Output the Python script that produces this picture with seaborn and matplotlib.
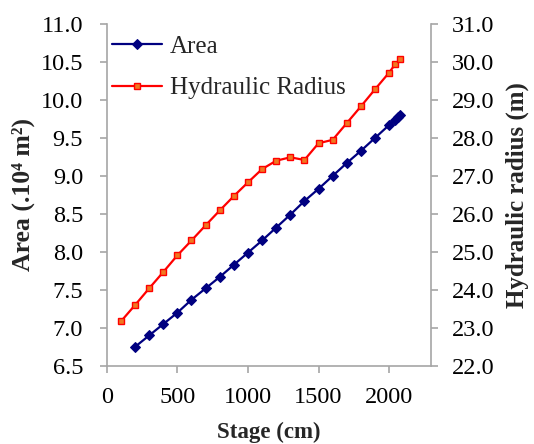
import matplotlib
matplotlib.use('Agg')
import matplotlib.pyplot as plt
import seaborn as sns
from matplotlib.ticker import FormatStrFormatter

# Area (x 10^4 m2) vs stage
stage_area = [200, 300, 400, 500, 600, 700, 800, 900, 1000, 1100, 1200,
              1300, 1400, 1500, 1600, 1700, 1800, 1900, 2000, 2045, 2065, 2080]
area = [6.75, 6.90, 7.05, 7.20, 7.37, 7.52, 7.67, 7.83, 7.99, 8.15, 8.32,
        8.49, 8.67, 8.83, 9.00, 9.17, 9.33, 9.50, 9.67, 9.74, 9.77, 9.80]

# Hydraulic radius (m) vs stage
stage_hr = [100, 200, 300, 400, 500, 600, 700, 800, 900, 1000, 1100,
            1200, 1300, 1400, 1500, 1600, 1700, 1800, 1900, 2000, 2045, 2080]
hyd_radius = [23.17, 23.60, 24.04, 24.47, 24.91, 25.30, 25.70, 26.09, 26.47, 26.83, 27.18,
              27.40, 27.49, 27.42, 27.86, 27.95, 28.39, 28.83, 29.28, 29.72, 29.95, 30.08]

sns.set_style('white')
plt.rcParams['font.family'] = ['Liberation Serif', 'DejaVu Serif']

fig = plt.figure(figsize=(5.34, 4.44), dpi=100)
ax = fig.add_axes([0.2, 0.176, 0.608, 0.770])
ax2 = ax.twinx()

sns.lineplot(x=stage_area, y=area, ax=ax, color='#000080', marker='D',
             markersize=5.5, markeredgecolor='#000080', linewidth=1.6, label='Area',
             legend=False)
sns.lineplot(x=stage_hr, y=hyd_radius, ax=ax2, color='#FF0000', marker='s',
             markersize=5, markerfacecolor='#F07820', markeredgecolor='#FF0000',
             markeredgewidth=1.0, linewidth=1.6, label='Hydraulic Radius', legend=False)

ax.set_xlim(0, 2300)
ax.set_ylim(6.5, 11.0)
ax2.set_ylim(22.0, 31.0)
ax.set_xticks([0, 500, 1000, 1500, 2000])
ax.set_yticks([6.5, 7.0, 7.5, 8.0, 8.5, 9.0, 9.5, 10.0, 10.5, 11.0])
ax2.set_yticks([22, 23, 24, 25, 26, 27, 28, 29, 30, 31])
ax.yaxis.set_major_formatter(FormatStrFormatter('%.1f'))
ax2.yaxis.set_major_formatter(FormatStrFormatter('%.1f'))

spine_col = '#A6A6A6'
for a in (ax, ax2):
    a.spines['top'].set_visible(False)
    for s in ('left', 'right', 'bottom'):
        a.spines[s].set_color(spine_col)
        a.spines[s].set_linewidth(1.2)
    a.tick_params(axis='both', direction='out', length=5, width=1.2,
                  color=spine_col, labelsize=17.5, labelcolor='black')
ax.spines['right'].set_visible(False)
ax2.spines['left'].set_visible(False)
ax2.spines['bottom'].set_visible(False)
ax.tick_params(axis='y', left=True, right=False, pad=12)
ax.tick_params(axis='x', bottom=True, pad=10)
ax2.tick_params(axis='y', right=True, left=False, pad=10)

ax.set_xlabel('Stage (cm)', fontsize=16.5, fontweight='bold', labelpad=10)
ax.set_ylabel('Area (.10\u2074 m\u00b2)', fontsize=18.5, fontweight='bold', labelpad=4)
ax2.set_ylabel('Hydraulic radius (m)', fontsize=18, fontweight='bold', labelpad=8)

h1, l1 = ax.get_legend_handles_labels()
h2, l2 = ax2.get_legend_handles_labels()
ax.legend(h1 + h2, l1 + l2, loc='upper left', bbox_to_anchor=(-0.03, 1.01),
          frameon=False, fontsize=18, handlelength=2.0, handletextpad=0.3,
          labelspacing=0.75, borderaxespad=0.2)

fig.savefig('out.png', dpi=100)
